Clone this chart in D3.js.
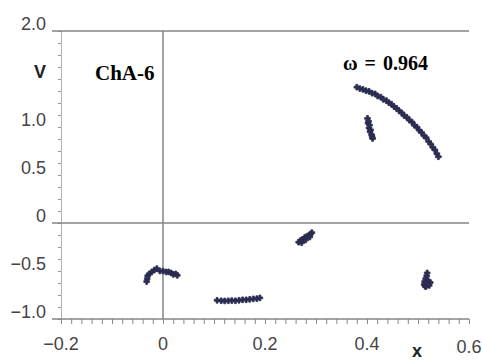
<!DOCTYPE html>
<html>
<head>
<meta charset="utf-8">
<script src="https://cdn.jsdelivr.net/npm/d3@7"></script>
<style>
  body { margin: 0; background: #fff; }
  svg { display: block; }
  .tick-label { font-family: "Liberation Sans", Arial, sans-serif; font-size: 18px; fill: #444; }
</style>
</head>
<body>
<div id="chart"></div>
<script>
// Define SVG area
var svgWidth = 482;
var svgHeight = 362;

// data, one pair of arrays per cluster
var arcX = [0.380, 0.386, 0.392, 0.398, 0.404, 0.410, 0.416, 0.421, 0.427, 0.432, 0.438, 0.443, 0.448, 0.453, 0.458, 0.463, 0.468, 0.473, 0.478, 0.483, 0.488, 0.493, 0.498, 0.502, 0.507, 0.512, 0.516, 0.521, 0.525, 0.529, 0.533, 0.537, 0.540];
var arcY = [1.415, 1.400, 1.392, 1.378, 1.372, 1.352, 1.345, 1.322, 1.312, 1.288, 1.275, 1.252, 1.238, 1.212, 1.195, 1.168, 1.148, 1.118, 1.102, 1.072, 1.052, 1.018, 0.998, 0.968, 0.942, 0.908, 0.888, 0.848, 0.822, 0.788, 0.762, 0.722, 0.690];

var stubX = [0.401, 0.403, 0.402, 0.405, 0.404, 0.407, 0.406, 0.409, 0.410, 0.411];
var stubY = [1.09, 1.06, 1.04, 1.02, 0.99, 0.97, 0.95, 0.92, 0.90, 0.88];

var leftX = [-0.032, -0.031, -0.030, -0.027, -0.022, -0.017, -0.012, -0.006, 0.000, 0.006, 0.011, 0.016, 0.020, 0.025, 0.028];
var leftY = [-0.61, -0.58, -0.55, -0.53, -0.51, -0.49, -0.475, -0.50, -0.50, -0.51, -0.51, -0.52, -0.535, -0.53, -0.545];

var lowX = [0.106, 0.114, 0.121, 0.128, 0.135, 0.142, 0.149, 0.156, 0.163, 0.170, 0.177, 0.184, 0.190];
var lowY = [-0.805, -0.810, -0.812, -0.810, -0.808, -0.810, -0.805, -0.800, -0.800, -0.795, -0.790, -0.788, -0.780];

var midX = [0.266, 0.270, 0.272, 0.274, 0.278, 0.280, 0.282, 0.286, 0.288, 0.289, 0.292];
var midY = [-0.20, -0.18, -0.205, -0.17, -0.15, -0.175, -0.14, -0.13, -0.145, -0.115, -0.10];

var rightX = [0.518, 0.517, 0.515, 0.513, 0.512, 0.516, 0.522, 0.524, 0.520, 0.514];
var rightY = [-0.52, -0.55, -0.58, -0.61, -0.64, -0.66, -0.65, -0.62, -0.60, -0.66];

var xTickLabels = [-0.2, 0, 0.2, 0.4, 0.6];
var yTickLabels = [2.0, 1.5, 1.0, 0.5, 0, -0.5, -1.0];

var clusters = [[arcX, arcY], [stubX, stubY], [leftX, leftY], [lowX, lowY], [midX, midY], [rightX, rightY]];

var svg = d3.select('#chart')
    .append('svg')
    .attr('width', svgWidth)
    .attr('height', svgHeight);

var x = d3.scaleLinear().domain([-0.2, 0.6]).range([61, 469]);
var y = d3.scaleLinear().domain([-1.0, 2.0]).range([319, 31]);

var lineColor = '#858585';

// minor ticks on the x axis, pointing down
svg.append('g')
    .attr('transform', `translate(0,${y(-1.0)})`)
    .call(d3.axisBottom(x).ticks(40).tickSize(5).tickFormat(''))
    .call(g => g.select('.domain').remove())
    .call(g => g.selectAll('line').attr('stroke', lineColor));

// minor ticks on the y axis, pointing left
svg.append('g')
    .attr('transform', `translate(${x(-0.2)},0)`)
    .call(d3.axisLeft(y).tickValues(d3.range(-1.0, 2.01, 0.125)).tickSize(3).tickFormat(''))
    .call(g => g.select('.domain').attr('stroke', '#b0b0b0'))
    .call(g => g.selectAll('line').attr('stroke', '#9a9a9a'));

// frame and zero lines
[y(2.0), y(0), y(-1.0)].forEach(function(py) {
    svg.append('line')
        .attr('x1', 52).attr('x2', x(0.6))
        .attr('y1', py).attr('y2', py)
        .attr('stroke', lineColor)
        .attr('stroke-width', 1.5);
});
svg.append('line')
    .attr('x1', x(0)).attr('x2', x(0))
    .attr('y1', y(2.0)).attr('y2', y(-1.0))
    .attr('stroke', lineColor)
    .attr('stroke-width', 1.5);

// tick labels
svg.selectAll('.xlab')
    .data(xTickLabels)
    .enter()
    .append('text')
    .attr('class', 'tick-label')
    .attr('x', d => x(d))
    .attr('y', d => d === 0.6 ? 353 : 350)
    .attr('text-anchor', 'middle')
    .text(d => d === 0 ? '0' : d3.format('.1f')(d));

svg.selectAll('.ylab')
    .data(yTickLabels)
    .enter()
    .append('text')
    .attr('class', 'tick-label')
    .attr('x', 46)
    .attr('y', d => y(d) - 1)
    .attr('text-anchor', 'end')
    .style('font-weight', d => d === 1.5 ? 'bold' : null)
    .style('fill', d => d === 1.5 ? '#222' : null)
    .text(d => d === 1.5 ? 'V' : (d === 0 ? '0' : d3.format('.1f')(d)));

svg.append('text')
    .attr('class', 'tick-label')
    .attr('x', 417)
    .attr('y', 357)
    .attr('text-anchor', 'middle')
    .style('fill', '#222')
    .style('font-weight', 'bold')
    .text('x');

// annotations
svg.append('text')
    .attr('x', 95)
    .attr('y', 80)
    .style('font-family', '"Liberation Serif", "Times New Roman", serif')
    .style('font-weight', 'bold')
    .style('font-size', '21px')
    .text('ChA-6');

svg.append('text')
    .attr('x', 343)
    .attr('y', 70)
    .style('font-family', '"Liberation Serif", "Times New Roman", serif')
    .style('font-weight', 'bold')
    .style('font-size', '20px')
    .style('word-spacing', '2px')
    .text('ω = 0.964');

// points
var cross = d3.symbol().type(d3.symbolCross).size(18);
clusters.forEach(function(c) {
    var pts = c[0].map((v, i) => [v, c[1][i]]);
    svg.append('g')
        .selectAll('path')
        .data(pts)
        .enter()
        .append('path')
        .attr('d', cross)
        .attr('transform', d => `translate(${x(d[0])},${y(d[1])})`)
        .attr('fill', '#2c2c52')
        .attr('stroke', '#2c2c52')
        .attr('stroke-width', 0.8);
});
</script>
</body>
</html>
